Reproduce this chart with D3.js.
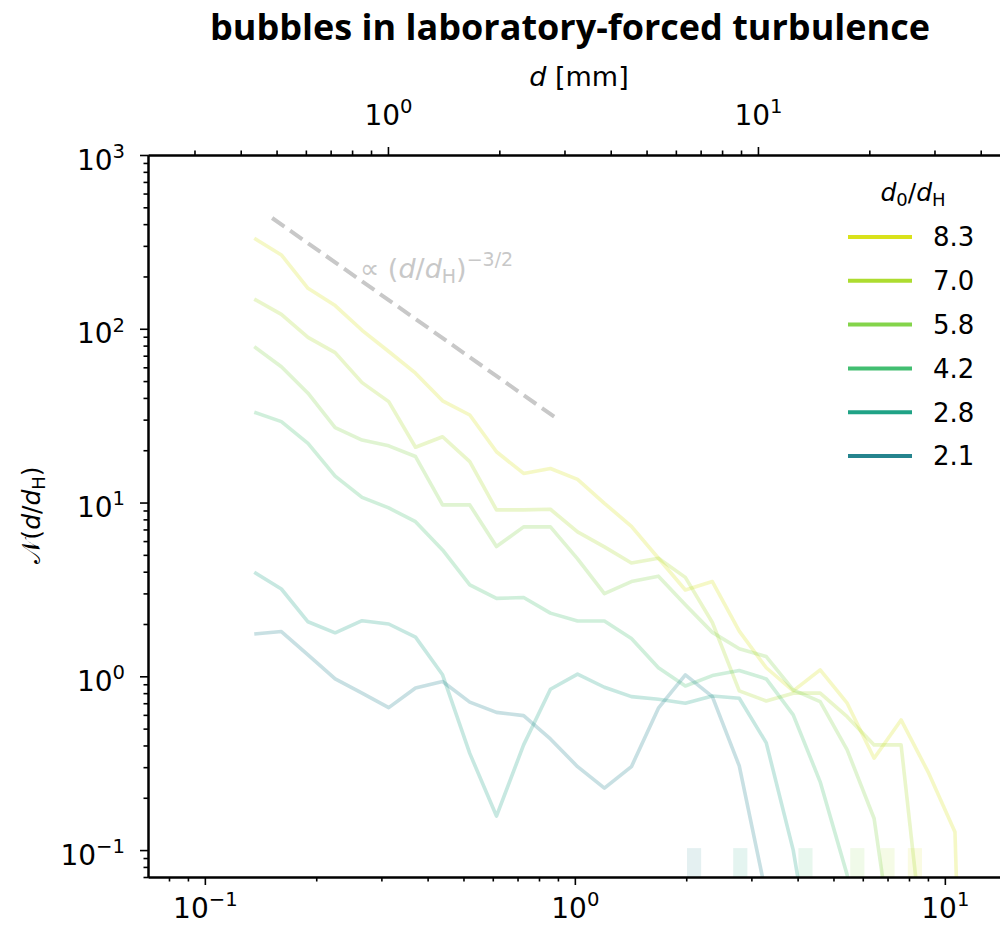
<!DOCTYPE html>
<html>
<head>
<meta charset="utf-8">
<script src="https://cdn.jsdelivr.net/npm/d3@7"></script>
<style>
  body { margin: 0; background: #fff; }
  svg text { font-family: "DejaVu Sans", sans-serif; fill: #000; }
</style>
</head>
<body>
<svg id="chart" width="1000" height="926"></svg>
<script>
// ---- data ----
const ratios = [8.3, 7.0, 5.8, 4.2, 2.8, 2.1];
const ratioLabels = ['8.3', '7.0', '5.8', '4.2', '2.8', '2.1'];
const colors = ['#d9e21b', '#addc30', '#84d44b', '#42be71', '#20a386', '#25848e'];

// bin centres in d/dH
const binCenters = [0.136, 0.161, 0.190, 0.225, 0.266, 0.314, 0.371, 0.439, 0.520, 0.614,
  0.727, 0.859, 1.017, 1.202, 1.422, 1.682, 1.989, 2.353, 2.782, 3.291,
  3.892, 4.603, 5.445, 6.439, 7.616, 9.007, 10.65, 12.60];

const n83 = [332, 266, 171, 136, 98, 74, 55.5, 38.5, 31.9, 19.6, 14.7, 15.7, 13.6, 9.9, 7.3,
  4.78, 3.14, 3.51, 1.82, 1.12, 0.824, 1.09, 0.70, 0.338, 0.561, 0.282, 0.127, 0];
const n70 = [148, 121, 89.3, 72.9, 49, 38.1, 20.8, 23.9, 17.2, 9.07, 9.07, 9.15, 6.78, 5.56,
  4.49, 4.78, 3.71, 2.04, 0.824, 0.721, 0.80, 0.80, 0.586, 0.403, 0.403, 0.016];
const n58 = [78.9, 60.5, 42.6, 27, 22.9, 21.2, 18.4, 9.69, 9.69, 5.58, 7.24, 7.24, 4.74, 2.99,
  3.51, 3.77, 2.58, 1.79, 1.44, 1.30, 0.835, 0.715, 0.377, 0.152, 0.0127];
const n42 = [33.1, 29.2, 21.9, 14.2, 10.7, 9.31, 7.76, 5.34, 3.36, 2.81, 2.84, 2.31, 2.08, 2.08,
  1.65, 1.12, 0.88, 1.01, 1.08, 0.966, 0.60, 0.247, 0.072, 0.005];
const n28 = [3.97, 3.18, 2.06, 1.78, 2.09, 2.0, 1.68, 1.02, 0.36, 0.157, 0.403, 0.843, 1.03,
  0.865, 0.764, 0.738, 0.70, 0.771, 0.748, 0.414, 0.10, 0.012];
const n21 = [1.75, 1.81, 1.33, 0.966, 0.80, 0.66, 0.857, 0.933, 0.71, 0.62, 0.594, 0.436, 0.302,
  0.227, 0.302, 0.655, 1.02, 0.764, 0.305, 0.055];
const seriesList = [n83, n70, n58, n42, n28, n21];

// -3/2 guide line
const refX = [0.152, 0.885];
const refY = [434, 30.9];

const dH = 3.2; // mm
const xMajors = [0.1, 1, 10];
const yMajors = [0.1, 1, 10, 100, 1000];
const mmMajors = [1, 10];

// ---- layout ----
const mLeft = 148, mRight = 1010, mTop = 155, mBottom = 877;
const svg = d3.select('#chart');

const x = d3.scaleLog().domain([0.0702, 15.0]).range([mLeft, mRight]);
const y = d3.scaleLog().domain([0.07, 1000]).range([mBottom, mTop]);
const xmm = d3.scaleLog().domain([0.0702 * dH, 15.0 * dH]).range([mLeft, mRight]);

// minor tick helper
function minorTicks(scale) {
  const [a, b] = scale.domain();
  const out = [];
  for (let e = Math.floor(Math.log10(a)); e <= Math.ceil(Math.log10(b)); e++) {
    for (let m = 2; m <= 9; m++) {
      const v = m * Math.pow(10, e);
      if (v >= a * 0.999 && v <= b) out.push(v);
    }
  }
  return out;
}

function supLabel(sel, base, exp) {
  sel.text(null);
  sel.append('tspan').text(base);
  sel.append('tspan').attr('font-size', '0.7em').attr('dy', '-0.6em').text(exp);
}
const expText = (v) => {
  const e = Math.round(Math.log10(v));
  return e < 0 ? '\u2212' + Math.abs(e) : String(e);
};

// ---- clip ----
svg.append('defs').append('clipPath').attr('id', 'plotClip')
  .append('rect').attr('x', mLeft).attr('y', mTop)
  .attr('width', mRight - mLeft).attr('height', mBottom - mTop);

const plot = svg.append('g').attr('clip-path', 'url(#plotClip)');

// marker spans at d0/dH
plot.selectAll('rect.span')
  .data(ratios)
  .join('rect')
  .attr('class', 'span')
  .attr('x', (d) => x(d / 1.045))
  .attr('width', (d) => x(d * 1.045) - x(d / 1.045))
  .attr('y', mBottom - 0.04 * (mBottom - mTop))
  .attr('height', 0.04 * (mBottom - mTop))
  .attr('fill', (d, i) => colors[i])
  .attr('opacity', 0.12);

// data lines
const line = d3.line()
  .x((d) => x(d[0]))
  .y((d) => y(Math.max(d[1], 1e-6)));

seriesList.forEach((s, i) => {
  const pts = s.map((v, k) => [binCenters[k], v]);
  plot.append('path')
    .attr('d', line(pts))
    .attr('fill', 'none')
    .attr('stroke', colors[i])
    .attr('stroke-opacity', 0.25)
    .attr('stroke-width', 3.6)
    .attr('stroke-linejoin', 'round');
});

// guide line
plot.append('path')
  .attr('d', line(d3.zip(refX, refY)))
  .attr('fill', 'none')
  .attr('stroke', '#c8c8c8')
  .attr('stroke-width', 4)
  .attr('stroke-dasharray', '15,7');

// guide annotation
const ann = svg.append('text')
  .attr('x', 360).attr('y', 278)
  .attr('font-size', 27)
  .style('fill', '#c8c8c8');
ann.append('tspan').text('\u221d (');
ann.append('tspan').attr('font-style', 'italic').text('d');
ann.append('tspan').text('/');
ann.append('tspan').attr('font-style', 'italic').text('d');
ann.append('tspan').attr('font-size', 19).attr('dy', 5).text('H');
ann.append('tspan').attr('dy', -5).text(')');
ann.append('tspan').attr('font-size', 19).attr('dy', -12).text('\u22123/2');

// ---- axes ----
const axisStyle = (g) => {
  g.select('.domain').attr('stroke', '#000').attr('stroke-width', 2);
  g.selectAll('.tick line').attr('stroke', '#000').attr('stroke-width', 1.6);
};

// bottom
svg.append('g').attr('transform', `translate(0,${mBottom})`)
  .call(d3.axisBottom(x).tickValues(minorTicks(x)).tickSize(4.5).tickSizeOuter(0).tickFormat(''))
  .call(axisStyle);
const gx = svg.append('g').attr('transform', `translate(0,${mBottom})`)
  .call(d3.axisBottom(x).tickValues(xMajors).tickSize(8).tickSizeOuter(0).tickPadding(7))
  .call(axisStyle);
gx.selectAll('.tick text')
  .attr('font-size', 28)
  .attr('dy', '0.93em')
  .each(function (d) { supLabel(d3.select(this), '10', expText(d)); });

// top (d in mm)
svg.append('g').attr('transform', `translate(0,${mTop})`)
  .call(d3.axisTop(xmm).tickValues(minorTicks(xmm)).tickSize(4.5).tickSizeOuter(0).tickFormat(''))
  .call(axisStyle);
const gt = svg.append('g').attr('transform', `translate(0,${mTop})`)
  .call(d3.axisTop(xmm).tickValues(mmMajors).tickSize(8).tickSizeOuter(0).tickPadding(22))
  .call(axisStyle);
gt.selectAll('.tick text')
  .attr('font-size', 28)
  .attr('dy', '0em')
  .each(function (d) { supLabel(d3.select(this), '10', expText(d)); });

// left
svg.append('g').attr('transform', `translate(${mLeft},0)`)
  .call(d3.axisLeft(y).tickValues(minorTicks(y)).tickSize(4.5).tickSizeOuter(0).tickFormat(''))
  .call(axisStyle);
const gy = svg.append('g').attr('transform', `translate(${mLeft},0)`)
  .call(d3.axisLeft(y).tickValues(yMajors).tickSize(8).tickSizeOuter(0).tickPadding(15))
  .call(axisStyle);
gy.selectAll('.tick text')
  .attr('font-size', 28)
  .attr('dy', '0.5em')
  .each(function (d) { supLabel(d3.select(this), '10', expText(d)); });

// ---- labels ----
svg.append('text')
  .attr('x', 570).attr('y', 40)
  .attr('text-anchor', 'middle')
  .attr('font-size', 36)
  .attr('font-weight', 700)
  .style('font-family', '"Open Sans", sans-serif')
  .text('bubbles in laboratory-forced turbulence');

const topLabel = svg.append('text')
  .attr('x', 579).attr('y', 86)
  .attr('text-anchor', 'middle')
  .attr('font-size', 27);
topLabel.append('tspan').attr('font-style', 'italic').text('d');
topLabel.append('tspan').text(' [mm]');

const yLabel = svg.append('text')
  .attr('transform', 'translate(40,515) rotate(-90)')
  .attr('text-anchor', 'middle')
  .attr('font-size', 25);
yLabel.append('tspan').text('\ud835\udca9(');
yLabel.append('tspan').attr('font-style', 'italic').text('d');
yLabel.append('tspan').text('/');
yLabel.append('tspan').attr('font-style', 'italic').text('d');
yLabel.append('tspan').attr('font-size', 18).attr('dy', 5).text('H');
yLabel.append('tspan').attr('dy', -5).text(')');

// ---- legend ----
const legend = svg.append('g');
const lt = legend.append('text')
  .attr('x', 913).attr('y', 201)
  .attr('text-anchor', 'middle')
  .attr('font-size', 25);
lt.append('tspan').attr('font-style', 'italic').text('d');
lt.append('tspan').attr('font-size', 18).attr('dy', 5).text('0');
lt.append('tspan').attr('dy', -5).text('/');
lt.append('tspan').attr('font-style', 'italic').text('d');
lt.append('tspan').attr('font-size', 18).attr('dy', 5).text('H');

const rows = legend.selectAll('g.row')
  .data(ratioLabels)
  .join('g')
  .attr('class', 'row')
  .attr('transform', (d, i) => `translate(0,${237 + i * 43.8})`);
rows.append('line')
  .attr('x1', 848).attr('x2', 912)
  .attr('stroke', (d, i) => colors[i])
  .attr('stroke-width', 4);
rows.append('text')
  .attr('x', 933).attr('dy', '0.36em')
  .attr('font-size', 26)
  .text((d) => d);
</script>
</body>
</html>
